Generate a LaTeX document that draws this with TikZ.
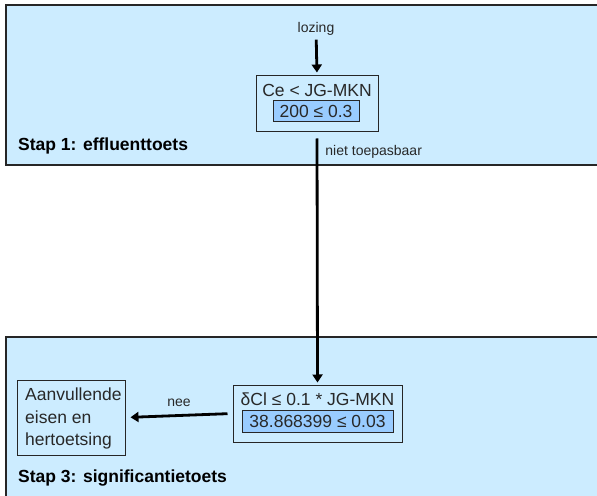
\documentclass[tikz,border=0pt]{standalone}
\usepackage{fontspec}
\setmainfont{Liberation Sans}
\usetikzlibrary{arrows.meta}
\definecolor{panelblue}{RGB}{204,236,255}
\definecolor{innerblue}{RGB}{153,204,255}
\definecolor{txt}{RGB}{40,40,40}
\tikzset{
  panel/.style={draw=black!85, line width=1.4bp, fill=panelblue},
  outerbox/.style={draw=black!85, line width=1bp, inner sep=0pt},
  innerbox/.style={draw=black!85, line width=1bp, fill=innerblue, inner sep=0pt, text=txt, font=\fontsize{17.5bp}{21bp}\selectfont},
  boxtext/.style={inner sep=0pt, text=txt, font=\fontsize{17.5bp}{21bp}\selectfont},
  smalllabel/.style={inner sep=0pt, text=txt, font=\fontsize{14bp}{17bp}\selectfont},
  steplabel/.style={inner sep=0pt, anchor=west, font=\bfseries\fontsize{17.5bp}{21bp}\selectfont},
  conn/.style={line width=2.8bp, -{Triangle[width=10bp,length=8bp]}},
}
\begin{document}
\begin{tikzpicture}[x=1bp,y=-1bp]
\useasboundingbox (0,0) rectangle (597,496);
\clip (0,0) rectangle (597,496);
% panels
\draw[panel] (6,5) rectangle (620,165);
\draw[panel] (6,337) rectangle (620,520);
% step 1
\node[smalllabel] (lozing) at (316,29) {lozing};
\node[outerbox, minimum width=122bp, minimum height=56bp] (box1) at (317,104) {};
\node[boxtext] (t1) at (317,90) {Ce < JG-MKN};
\node[innerbox, minimum width=86bp, minimum height=21bp] (in1) at (316,111.5) {200 ≤ 0.3};
\node[steplabel] (stap1) at (18,146) {Stap 1: effluenttoets};
% step 3
\node[outerbox, minimum width=169bp, minimum height=57bp] (box2) at (317.5,413.5) {};
\node[boxtext] (t2) at (317.5,399) {δCl ≤ 0.1 * JG-MKN};
\node[innerbox, minimum width=151bp, minimum height=22bp] (in2) at (317.5,421) {38.868399 ≤ 0.03};
\node[outerbox, minimum width=107bp, minimum height=75bp] (aan) at (71.5,417.5) {};
\node[boxtext, align=left, anchor=north west, font=\fontsize{17.5bp}{22.5bp}\selectfont] (aantext) at (25,388) {Aanvullende\\eisen en\\hertoetsing};
\node[steplabel] (stap3) at (18,478) {Stap 3: significantietoets};
% connectors
\draw[conn, shorten <=4bp, shorten >=3bp] (lozing) -- (box1.north);
\draw[conn, shorten <=6bp, shorten >=2bp] (box1.south) -- node[pos=0.075, anchor=west, xshift=7bp, smalllabel] (niet) {niet toepasbaar} (box2.north);
\draw[conn, shorten <=5bp, shorten >=5bp] (box2.west) -- node[above=7bp, smalllabel] (nee) {nee} (aan.east);
\end{tikzpicture}
\end{document}
